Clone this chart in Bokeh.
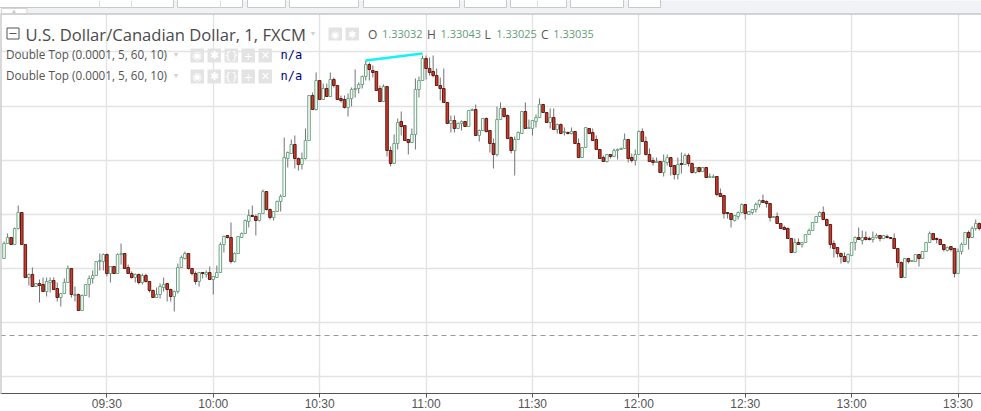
from datetime import datetime, timedelta

from bokeh.core.properties import value
from bokeh.embed import file_html
from bokeh.models import (ColumnDataSource, DatetimeTickFormatter, FixedTicker, Range1d)
from bokeh.plotting import figure
from bokeh.resources import INLINE

# All candle values are pipettes (0.00001 CAD) below the reference price.
REF_PRICE = 1.33214
FIRST_MINUTE = datetime(2018, 1, 2, 9, 1)

high_pts = [
    241,233,237,227,205,212,244,273,267,283, 279,277,277,277,277,282,293,278,265,268,
    286,293,294,284,275,270,261,253,253,253, 266,266,253,243,253,264,271,273,273,273,
    273,281,289,287,283,277,283,288,290,263, 255,251,253,268,271,272,272,270,266,276,
    265,242,235,235,222,252,236,232,219,209, 205,214,213,189,191,208,211,200,194,137,
    151,139,135,157,152,128,95,92,72,80, 83,83,72,77,85,95,95,93,87,69,
    82,75,60,62,65,71,85,84,86,146, 134,118,111,125,139,128,78,76,55,55,
    57,55,68,77,68,102,115,115,122,120, 121,110,108,104,129,118,117,130,138,106,
    102,107,114,136,136,131,111,102,119,120, 114,98,104,112,108,108,123,123,127,131,
    127,131,138,147,127,128,128,135,149,155, 154,154,148,148,147,133,139,153,149,130,
    128,136,148,157,157,161,154,154,157,165, 157,152,153,153,162,167,167,167,167,173,
    174,176,188,195,212,213,215,211,203,204, 211,209,202,199,194,200,203,216,212,223,
    225,227,238,238,238,242,234,228,222,216, 211,206,218,224,240,247,252,252,253,242,
    236,227,230,231,236,231,233,235,235,234, 237,233,248,261,258,258,260,254,254,251,
    242,231,233,237,238,244,246,246,248,248, 242,232,230,226,219,222,
]
body_top_pts = [
    243,237,237,228,212,212,244,274,274,283, 283,284,281,280,280,288,293,282,268,268,
    294,294,295,284,278,275,261,260,254,254, 266,266,254,253,253,267,273,274,274,275,
    275,281,290,294,286,284,283,289,291,267, 257,253,253,268,273,272,272,272,272,276,
    272,244,236,235,237,253,236,233,220,215, 215,216,213,191,191,209,211,201,196,157,
    152,144,144,158,158,140,95,95,80,80, 88,88,79,79,85,98,99,98,89,88,
    84,76,64,64,70,71,88,86,86,150, 143,122,121,125,139,134,89,80,58,58,
    68,71,75,85,88,102,120,120,123,121, 121,110,109,109,130,118,118,130,143,119,
    108,108,115,137,139,132,111,111,127,120, 117,104,104,112,117,117,124,124,131,132,
    131,131,143,147,127,128,132,139,149,157, 154,154,150,149,148,139,139,157,154,131,
    131,141,154,160,161,161,161,157,157,165, 164,163,155,155,163,167,167,167,167,176,
    176,176,193,195,212,213,215,212,204,204, 211,209,204,200,200,201,203,216,216,223,
    227,228,238,242,242,242,234,230,222,216, 212,212,219,224,243,247,253,256,254,242,
    237,237,237,237,238,237,235,235,235,236, 237,238,248,262,258,258,260,254,254,251,
    242,233,233,238,239,244,247,246,248,251, 244,232,232,228,223,223,
]
body_bottom_pts = [
    258,243,244,244,228,244,277,277,286,286, 285,291,291,282,289,297,297,293,282,294,
    295,310,310,295,284,278,275,261,261,273, 273,273,273,254,268,273,277,277,282,282,
    281,290,297,297,294,287,289,296,296,291, 267,258,268,273,281,281,273,274,279,279,
    277,272,244,237,261,261,253,237,233,221, 216,220,220,213,209,217,217,211,201,196,
    158,153,158,164,164,158,140,109,109,99, 99,96,96,85,99,100,107,107,98,89,
    88,84,76,69,72,90,101,101,150,163, 163,143,126,140,142,142,134,89,80,68,
    72,75,85,88,102,123,123,128,128,123, 126,126,110,135,135,130,131,143,154,154,
    119,116,138,150,150,139,133,128,128,128, 121,117,112,122,122,129,129,133,132,133,
    133,143,157,157,147,133,140,149,158,161, 161,156,156,150,149,148,158,160,160,154,
    141,154,161,162,162,172,172,162,166,174, 174,164,164,163,172,172,171,171,177,177,
    177,194,196,213,213,219,220,216,212,213, 214,212,209,204,202,203,217,217,223,228,
    229,238,252,252,244,244,242,234,230,222, 216,219,225,244,248,253,256,261,261,255,
    242,239,240,239,239,239,237,238,238,237, 238,248,262,277,277,261,261,261,258,258,
    251,242,239,239,244,249,250,249,273,273, 251,244,237,237,228,228,
]
low_pts = [
    258,243,244,244,229,244,277,285,286,286, 302,291,296,292,289,301,306,293,282,297,
    301,310,310,295,297,283,275,270,270,276, 282,273,273,264,268,273,278,282,284,284,
    282,292,297,297,298,291,301,301,311,293, 267,259,269,275,284,286,278,277,279,294,
    277,272,252,238,263,262,253,237,233,227, 216,235,221,213,210,219,220,211,211,196,
    167,153,168,170,169,159,140,109,110,99, 99,96,96,87,99,102,108,116,106,97,
    93,88,80,80,77,90,101,101,156,166, 163,149,135,140,154,142,149,97,80,79,
    75,77,85,100,102,123,132,132,128,130, 126,126,110,135,141,130,132,152,168,156,
    119,117,138,153,175,139,133,128,128,135, 127,117,112,122,128,129,133,133,135,134,
    134,143,157,157,147,133,140,149,158,161, 162,158,156,159,149,148,162,162,165,154,
    141,155,161,165,162,172,176,165,175,179, 179,173,164,166,173,173,172,171,177,177,
    177,196,196,218,218,227,221,219,213,219, 214,214,212,207,202,207,221,217,223,228,
    229,238,252,252,244,247,242,234,230,222, 216,219,226,248,257,257,263,261,263,255,
    250,239,244,240,240,242,238,241,238,238, 238,248,267,277,277,263,261,261,266,258,
    251,242,240,243,244,251,251,251,277,273, 254,244,249,237,230,230,
]
direction = (
    "GGRGGRRGRG" "RRGGRRGGGR" "GRGGGGGGGR" "GRGGRRRGRG" "RRRGGGRRGG" "GGRRRGRGRG"
    "GGGRRGGGGG" "RRGGRRGGGG" "GGRRGGGRGR" "GRGRRRRGGG" "GGGRRRRGRR" "GGRRRGGGGR"
    "RRRRRRGRGG" "RGGRGGRRRG" "GRRRGGGRGG" "GGRRGRGRGR" "GRRGGRRRRR" "GRGGGGRRGG"
    "RRRRGRGGRR" "GRGRRGRGRG" "GRRRRRGGGR" "GGGGRRRGRR" "RRRGRGGGGG" "GRRRRRRRGG"
    "GRGRRGGRGR" "RRRRGRGGRG" "GGRRRRGRRG" "GGRGGR"
)
grid_levels = [1.33163, 1.33108, 1.33054, 1.33000, 1.32946, 1.32892, 1.32838]
last_price_line = 1.32879
tick_minutes = [30, 60, 90, 120, 150, 180, 210, 240, 270]
double_top_index = [102, 118]
double_top_pts = [60, 53]
title = "U.S. Dollar/Canadian Dollar, 1, FXCM"
study = "Double Top (0.0001, 5, 60, 10)"
ohlc_labels = ["O", "H", "L", "C"]
ohlc_values = ["1.33032", "1.33043", "1.33025", "1.33035"]

n = len(high_pts)
assert n == len(body_top_pts) == len(body_bottom_pts) == len(low_pts) == len(direction)


def price(pts):
    return [REF_PRICE - v * 1e-5 for v in pts]


times = [FIRST_MINUTE + timedelta(minutes=i) for i in range(n)]
start = FIRST_MINUTE - timedelta(minutes=1)
PX_PER_MIN = 3.5463
x_end = start + timedelta(minutes=981 / PX_PER_MIN)

p = figure(
    frame_width=981, frame_height=393, x_axis_type="datetime",
    x_range=Range1d(start, x_end),
    y_range=Range1d(REF_PRICE - 393e-5, REF_PRICE),
    output_backend="svg", toolbar_location=None,
    min_border_left=0, min_border_right=0, min_border_top=0, min_border_bottom=0,
    background_fill_color="white", border_fill_color="white", outline_line_color=None,
)

# screen-like coordinates for the interface chrome only
p.extra_x_ranges["ui"] = Range1d(0, 981)
p.extra_y_ranges["ui"] = Range1d(393, 0)

# axes and grid
ticks = [(start + timedelta(minutes=m) - datetime(1970, 1, 1)).total_seconds() * 1000 for m in tick_minutes]
p.yaxis.visible = False
ax = p.xaxis[0]
ax.ticker = FixedTicker(ticks=ticks)
ax.formatter = DatetimeTickFormatter(minutes="%H:%M", hours="%H:%M", minsec="%H:%M", seconds="%H:%M")
ax.axis_line_color = "#555555"
ax.major_tick_line_color = "#555555"
ax.major_tick_out = 4
ax.major_tick_in = 0
ax.minor_tick_line_color = None
ax.major_label_text_font = "Liberation Sans"
ax.major_label_text_font_size = "12px"
ax.major_label_text_color = "#555555"
ax.major_label_standoff = -1
p.xgrid.ticker = FixedTicker(ticks=ticks)
p.ygrid.ticker = FixedTicker(ticks=grid_levels)
p.xgrid.grid_line_color = "#e3e3e3"
p.ygrid.grid_line_color = "#e3e3e3"
p.xgrid.grid_line_width = 1.4
p.ygrid.grid_line_width = 1.4

# dashed price line
p.line([start, x_end], [last_price_line] * 2, line_color="#999999", line_width=1, line_dash="5 4")

# candles
up = [d == "G" for d in direction]
src = ColumnDataSource(dict(
    t=times, high=price(high_pts), low=price(low_pts),
    top=price(body_top_pts), bottom=price(body_bottom_pts),
))
up_src = ColumnDataSource({k: [v[i] for i in range(n) if up[i]] for k, v in src.data.items()})
dn_src = ColumnDataSource({k: [v[i] for i in range(n) if not up[i]] for k, v in src.data.items()})
p.segment("t", "high", "t", "low", source=src, line_color="#737375", line_width=1)
BODY_MS = 0.72 * 60000
p.vbar("t", BODY_MS, "top", "bottom", source=up_src, fill_color="white", line_color="#6ba583", line_width=1)
p.vbar("t", BODY_MS, "top", "bottom", source=dn_src, fill_color="#d0392b", line_color="#5b1a13", line_width=1)

# double-top trend line
p.line([times[i] for i in double_top_index], price(double_top_pts), line_color="#0ff5f5", line_width=2.4)

# interface chrome
def ui_box(x0, x1, y0, y1, fill, line=None):
    p.quad(left=[x0], right=[x1], top=[y0], bottom=[y1], x_range_name="ui", y_range_name="ui",
           fill_color=fill, line_color=line, line_width=1, level="overlay")


def ui_text(x, y, txt, size, color, font="Open Sans", align="left", style="normal"):
    p.text(x=[x], y=[y], text=[txt], x_range_name="ui", y_range_name="ui", text_font=value(font),
           text_font_size=size, text_color=color, text_align=align, text_baseline="middle",
           text_font_style=style, level="overlay")


ui_box(0, 981, 0, 13.5, "#f0f2f6")
p.line([0, 981], [13.5, 13.5], x_range_name="ui", y_range_name="ui", line_color="#c4c4c4", line_width=1.5, level="overlay")
p.line([0.5, 0.5], [13.5, 393], x_range_name="ui", y_range_name="ui", line_color="#cccccc", line_width=1.5, level="overlay")
ui_box(1, 26.5, 8, 13, "#ffffff", "#d5d5d5")
for x0, x1 in [(-2, 173), (177, 242), (247, 285), (289, 358), (363, 459), (464, 506),
               (510, 566), (570, 623), (628, 660)]:
    ui_box(x0, x1, -2, 7, "#ffffff", "#c9c9c9")
for x in [99, 131, 220, 537]:
    p.line([x, x], [0, 7], x_range_name="ui", y_range_name="ui", line_color="#dddddd", level="overlay")
ui_text(13.5, 10.6, "▲", "6px", "#c8c8c8", align="center")

# legend rows
ui_box(6.5, 18.5, 27.5, 38.5, "#ffffff", "#555555")
p.line([9, 16], [33, 33], x_range_name="ui", y_range_name="ui", line_color="#555555", level="overlay")
ui_text(25, 33.5, title, "16.6px", "#4a4a4a")
ui_text(309, 33, "▼", "7px", "#cfcfcf")
for x0 in (328, 345):
    ui_box(x0, x0 + 13.5, 27, 40, "#e3e3e3")
ui_text(334.8, 33.5, "◉", "10px", "#ffffff", font="DejaVu Sans", align="center")
ui_text(351.8, 33.5, "✱", "10px", "#ffffff", font="DejaVu Sans", align="center")

xs_labels = [367.5, 426.5, 484, 540.5]
xs_values = [381.5, 440, 495.7, 552.7]
for xl, xv, lab, val in zip(xs_labels, xs_values, ohlc_labels, ohlc_values):
    ui_text(xl, 33.5, lab, "12px", "#555555")
    ui_text(xv, 33.5, val, "11px", "#5f9c78")

for yc in (55, 76):
    ui_text(5.5, yc - 1.2, study, "11.7px", "#535353")
    ui_text(172, yc - 1, "▼", "7px", "#cfcfcf")
    for x0, glyph in zip((190, 207, 224, 241, 258), ("◉", "✱", "{}", "+", "✕")):
        ui_box(x0, x0 + 13.5, yc - 7, yc + 7, "#e3e3e3")
        ui_text(x0 + 6.8, yc, glyph, "11px", "#ffffff", font="DejaVu Sans", align="center")
    ui_text(280, yc - 0.5, "n/a", "12px", "#000080", font="DejaVu Sans Mono")

open("out.html", "w").write(file_html(p, INLINE))
